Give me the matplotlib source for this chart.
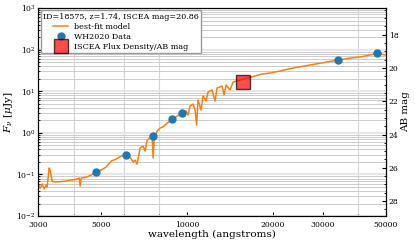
import matplotlib
matplotlib.use("Agg")
import matplotlib.pyplot as plt
from matplotlib.ticker import FixedLocator, NullFormatter, MultipleLocator

plt.rcParams["font.family"] = "DejaVu Serif"
plt.rcParams["mathtext.fontset"] = "dejavuserif"

# --- best-fit model spectrum ---
model_wave = [3000, 3049, 3099, 3149, 3200, 3226, 3279, 3305, 3360, 3442,
              3585, 3732, 3887, 4047, 4180, 4214, 4248, 4423, 4605, 4795,
              4993, 5199, 5413, 5637, 5869, 6111, 6312, 6467, 6572, 6680,
              6844, 7012, 7126, 7242, 7420, 7541, 7602, 7664, 7852, 8044,
              8309, 8513, 8864, 9230, 9610, 9926, 10088, 10252, 10504, 10675,
              10805, 10937, 11206, 11388, 11668, 11858, 12248, 12548, 12753, 13279,
              13496, 13715, 14167, 14514, 15360, 16255, 17340, 18351, 19575, 21223,
              23588, 27055, 31037, 33932, 36494, 40533, 46502, 50000]
model_flux = [0.062, 0.047, 0.059, 0.045, 0.056, 0.050, 0.143, 0.128, 0.069, 0.066,
              0.067, 0.069, 0.073, 0.075, 0.082, 0.053, 0.082, 0.086, 0.097, 0.114,
              0.128, 0.151, 0.210, 0.234, 0.277, 0.292, 0.262, 0.199, 0.222, 0.178,
              0.432, 0.482, 0.365, 0.671, 0.750, 0.838, 0.248, 0.671, 1.10, 1.30,
              1.46, 1.72, 2.03, 2.54, 2.99, 3.34, 2.68, 4.41, 4.92, 3.53,
              1.54, 6.14, 3.53, 7.67, 5.81, 9.57, 10.7, 5.81, 11.9, 13.3,
              8.11, 14.1, 10.7, 16.6, 18.6, 20.8, 23.2, 25.9, 27.4, 30.6,
              36.1, 42.7, 50.4, 56.2, 61.1, 66.4, 80.5, 74.1]

# --- photometry ---
phot_wave = [4785, 6125, 7584, 8885, 9634, 33930, 46620]
phot_flux = [0.114, 0.288, 0.824, 2.15, 2.94, 55.3, 81.5]
iscea_wave = [15780]
iscea_flux = [16.6]

legend_title = "ID=18575, z=1.74, ISCEA mag=20.86"
xtick_vals = [3000, 5000, 10000, 20000, 30000, 50000]
xgrid_vals = [4000, 6000, 8000, 10000, 20000, 30000, 40000]

fig, ax = plt.subplots(figsize=(4.15, 2.42), dpi=100)
fig.subplots_adjust(left=0.092, right=0.930, bottom=0.107, top=0.967)

ax.plot(model_wave, model_flux, color="C1", lw=1.1, label="best-fit model", zorder=3)
ax.plot(phot_wave, phot_flux, "o", color="C0", ms=5, label="WH2020 Data", zorder=4)
ax.plot(iscea_wave, iscea_flux, "s", color="red", alpha=0.7, mec="k", ms=10.5,
        label="ISCEA Flux Density/AB mag", zorder=5)

ax.set_xscale("log")
ax.set_yscale("log")
ax.set_xlim(3000, 50000)
ax.set_ylim(1e-2, 1e3)

ax.xaxis.set_major_locator(FixedLocator(xtick_vals))
ax.xaxis.set_major_formatter(plt.FixedFormatter([str(v) for v in xtick_vals]))
ax.xaxis.set_minor_locator(FixedLocator(xgrid_vals))
ax.xaxis.set_minor_formatter(NullFormatter())

ax.tick_params(which="both", direction="in", labelsize=5.5, pad=2)
ax.tick_params(axis="x", pad=3.5)
ax.tick_params(which="major", length=3)
ax.tick_params(which="minor", length=1.5)

# grid
ax.grid(True, axis="x", which="minor", color="#d4d4d4", lw=0.8)
ax.grid(True, axis="y", which="major", color="#e6e6e6", lw=1.6)
ax.grid(True, axis="y", which="minor", color="#cccccc", lw=0.7)
ax.set_axisbelow(True)

ax.set_xlabel("wavelength (angstroms)", fontsize=7.5, labelpad=1)
ax.set_ylabel(r"$F_\nu$ [$\mu$Jy]", fontsize=7.5, labelpad=1)

# AB magnitude axis (inverted: bright at top)
ax2 = ax.twinx()
ax2.set_ylim(23.9 + 2.5 * 2, 23.9 - 2.5 * 3)
ax2.yaxis.set_major_locator(MultipleLocator(2))
ax2.yaxis.set_minor_locator(MultipleLocator(0.5))
ax2.tick_params(which="both", direction="in", labelsize=5.5, pad=2)
ax2.tick_params(which="major", length=3)
ax2.tick_params(which="minor", length=1.5)
ax2.set_ylabel("AB mag", fontsize=7.5, labelpad=2)

leg = ax.legend(loc="upper left", title=legend_title, fontsize=5.8, title_fontsize=5.8,
                labelspacing=0.25, borderpad=0.3, handlelength=1.8, framealpha=1,
                edgecolor="#999999", borderaxespad=0.3)
leg.set_zorder(10)

fig.savefig("out.png", dpi=100)
